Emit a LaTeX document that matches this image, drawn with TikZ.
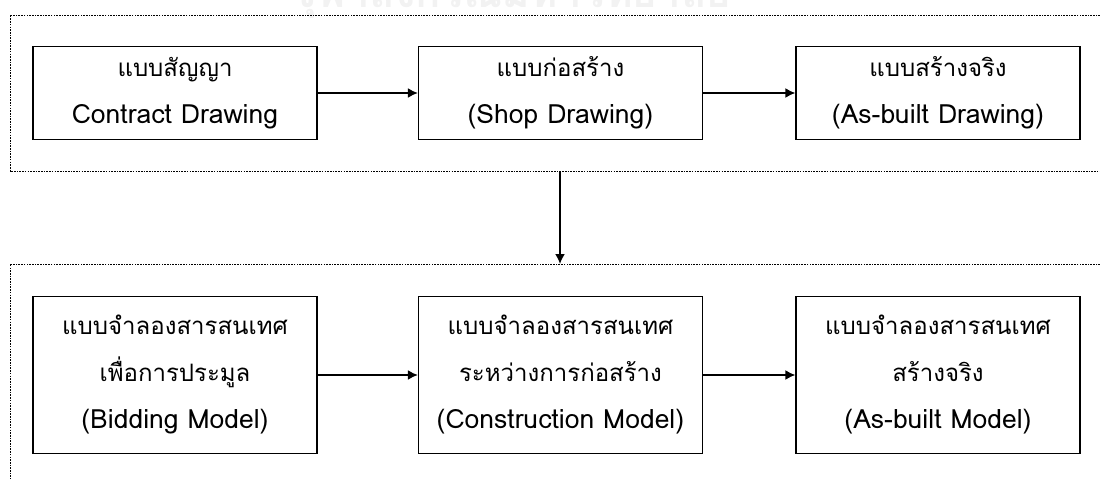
\documentclass[tikz,border=0pt]{standalone}
\usepackage{fontspec}
\newfontfamily\thai[Script=Thai]{Loma}
\newcommand\enline{\fontsize{26.5}{47}\selectfont}
\usetikzlibrary{arrows.meta}
\tikzset{
  box/.style={draw=black, line width=1.2pt, minimum width=284pt, inner sep=0pt, align=center,
    font=\thai\fontsize{24}{47}\selectfont},
  topbox/.style={box, minimum height=93pt},
  botbox/.style={box, minimum height=157pt},
  frame/.style={draw=black, line width=0.9pt, dash pattern=on 1.6pt off 1.1pt},
  arr/.style={line width=1.8pt, -{Latex[length=10pt,width=10pt]}},
  wm/.style={text=black!5, font=\thai\bfseries\fontsize{42}{42}\selectfont, anchor=base}
}
\begin{document}
\begin{tikzpicture}[x=1pt,y=-1pt]
\useasboundingbox (0,0) rectangle (1100,479);
% faint watermark, cut off at the top
\node[wm] (wm) at (512,8) {จุฬาลงกรณ์มหาวิทยาลัย};
% frames
\draw[frame] (1100,15) -- (10,15) -- (10,171) -- (1100,171);
\draw[frame] (1100,264) -- (10,264) -- (10,479);
\coordinate (f1) at (560,171);
\coordinate (f2) at (560,264);
% top row
\node[topbox] (a1) at (175,93) {แบบสัญญา\\\enline Contract Drawing};
\node[topbox] (a2) at (560.5,93) {แบบก่อสร้าง\\\enline (Shop Drawing)};
\node[topbox] (a3) at (938,93) {แบบสร้างจริง\\\enline (As-built Drawing)};
% bottom row
\node[botbox] (b1) at (175,375) {แบบจำลองสารสนเทศ\\เพื่อการประมูล\\\enline (Bidding Model)};
\node[botbox] (b2) at (560.5,375) {แบบจำลองสารสนเทศ\\ระหว่างการก่อสร้าง\\\enline (Construction Model)};
\node[botbox] (b3) at (938,375) {แบบจำลองสารสนเทศ\\สร้างจริง\\\enline (As-built Model)};
% connectors
\draw[arr] (a1) -- (a2);
\draw[arr] (a2) -- (a3);
\draw[arr] (b1) -- (b2);
\draw[arr] (b2) -- (b3);
\draw[arr] (f1) -- (f2);
\end{tikzpicture}
\end{document}
